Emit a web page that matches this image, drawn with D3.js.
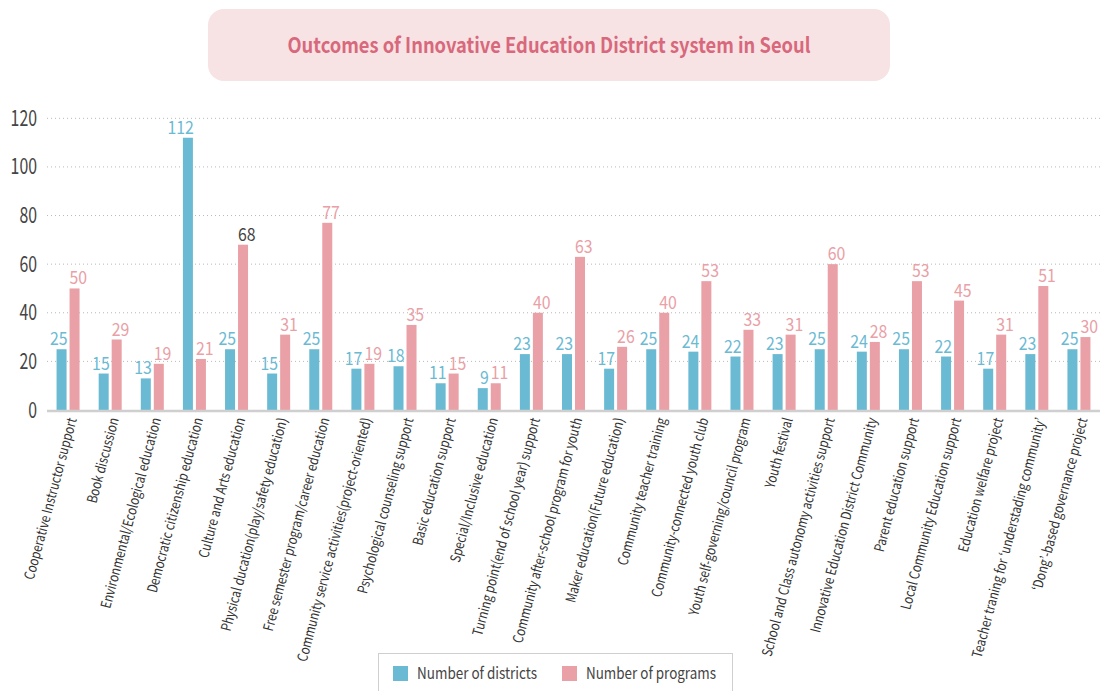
<!DOCTYPE html>
<html>
<head>
<meta charset="utf-8">
<script src="https://cdn.jsdelivr.net/npm/d3@7"></script>
<style>
  body { margin: 0; background: #fff; }
  text { font-family: "Noto Sans CJK KR", "Noto Sans", sans-serif; }
</style>
</head>
<body>
<div id="chart"></div>
<script>
// Data ------------------------------------------------------------------------
const categories = [
  "Cooperative Instructor support",
  "Book discussion",
  "Environmental/Ecological education",
  "Democratic citizenship education",
  "Culture and Arts education",
  "Physical ducation(play/safety education)",
  "Free semester program/career education",
  "Community service activities(project-oriented)",
  "Psychological counseling support",
  "Basic education support",
  "Special/Inclusive education",
  "Turning point(end of school year) support",
  "Community after-school program for youth",
  "Maker education(Future education)",
  "Community teacher training",
  "Community-connected youth club",
  "Youth self-governing/council program",
  "Youth festival",
  "School and Class autonomy activities support",
  "Innovative Education District Community",
  "Parent education support",
  "Local Community Education support",
  "Education welfare project",
  "Teacher traning for \u2018understading community\u2019",
  "\u2018Dong\u2019-based governance project"
];
const districts = [25, 15, 13, 112, 25, 15, 25, 17, 18, 11, 9, 23, 23, 17, 25, 24, 22, 23, 25, 24, 25, 22, 17, 23, 25];
const programs = [50, 29, 19, 21, 68, 31, 77, 19, 35, 15, 11, 40, 63, 26, 40, 53, 33, 31, 60, 28, 53, 45, 31, 51, 30];
const yTicks = [0, 20, 40, 60, 80, 100, 120];
const seriesNames = ["Number of districts", "Number of programs"];

// Canvas ----------------------------------------------------------------------
const canvasWidth = 1101;
const canvasHeight = 691;
const blue = "#6bbad3";
const pink = "#e9a0a6";

const svg = d3.select("#chart")
  .append("svg")
  .attr("width", canvasWidth)
  .attr("height", canvasHeight);

// squeeze text horizontally (the original uses a condensed face)
function squeeze(sel, k) {
  sel.each(function() {
    const len = this.getComputedTextLength();
    d3.select(this).attr("textLength", len * k).attr("lengthAdjust", "spacingAndGlyphs");
  });
}

// Title box
svg.append("rect")
  .attr("x", 208).attr("y", 9)
  .attr("width", 682).attr("height", 72)
  .attr("rx", 16)
  .attr("fill", "#f7e2e4");
svg.append("text")
  .attr("x", 549).attr("y", 53)
  .attr("text-anchor", "middle")
  .attr("font-size", 21)
  .attr("font-weight", 700)
  .attr("fill", "#d8687b")
  .attr("textLength", 523)
  .attr("lengthAdjust", "spacingAndGlyphs")
  .text("Outcomes of Innovative Education District system in Seoul");

// Scales ----------------------------------------------------------------------
const xScale = d3.scaleBand()
  .domain(categories)
  .range([47, 1100])
  .padding(0);
const yScale = d3.scaleLinear()
  .domain([0, 120])
  .range([410, 118.3]);

const barWidth = 10;
const barGap = 1.5;

// Grid
svg.append("g")
  .selectAll("line")
  .data(yTicks.filter(d => d > 0))
  .join("line")
  .attr("x1", 47).attr("x2", 1100)
  .attr("y1", d => yScale(d)).attr("y2", d => yScale(d))
  .attr("stroke", "#b8b8b8")
  .attr("stroke-width", 1)
  .attr("stroke-dasharray", "1,3");

// Y axis
const yAxis = svg.append("g")
  .attr("transform", "translate(37,0)")
  .call(d3.axisLeft(yScale).tickValues(yTicks).tickSize(0).tickPadding(0));
yAxis.select(".domain").remove();
yAxis.selectAll("text")
  .attr("font-family", "'Noto Sans CJK KR', sans-serif")
  .attr("font-size", 22)
  .attr("fill", "#444")
  .call(squeeze, 0.72);

// Bars ------------------------------------------------------------------------
const center = d => xScale(d) + xScale.bandwidth() / 2;

svg.append("g")
  .selectAll("rect")
  .data(categories)
  .join("rect")
  .attr("x", (d) => center(d) - barGap - barWidth)
  .attr("y", (d, i) => yScale(districts[i]))
  .attr("width", barWidth)
  .attr("height", (d, i) => yScale(0) - yScale(districts[i]))
  .attr("fill", blue);

svg.append("g")
  .selectAll("rect")
  .data(categories)
  .join("rect")
  .attr("x", (d) => center(d) + barGap)
  .attr("y", (d, i) => yScale(programs[i]))
  .attr("width", barWidth)
  .attr("height", (d, i) => yScale(0) - yScale(programs[i]))
  .attr("fill", pink);

// Baseline
svg.append("line")
  .attr("x1", 47).attr("x2", 1100)
  .attr("y1", yScale(0) + 1).attr("y2", yScale(0) + 1)
  .attr("stroke", "#cfcfcf")
  .attr("stroke-width", 2.5);

// Value labels
svg.append("g")
  .selectAll("text")
  .data(categories)
  .join("text")
  .attr("x", d => center(d) - barGap + 1)
  .attr("y", (d, i) => yScale(districts[i]) - 4)
  .attr("text-anchor", "end")
  .attr("font-size", 18)
  .attr("fill", blue)
  .text((d, i) => districts[i])
  .call(squeeze, 0.88);

svg.append("g")
  .selectAll("text")
  .data(categories)
  .join("text")
  .attr("x", d => center(d) + barGap)
  .attr("y", (d, i) => yScale(programs[i]) - 4)
  .attr("text-anchor", "start")
  .attr("font-size", 18)
  .attr("fill", (d, i) => i === 4 ? "#444" : pink)
  .text((d, i) => programs[i])
  .call(squeeze, 0.88);

// Category labels
svg.append("g")
  .selectAll("text")
  .data(categories)
  .join("text")
  .attr("transform", d => "translate(" + (center(d) + 4) + ",418) rotate(-75)")
  .attr("dy", "0.35em")
  .attr("text-anchor", "end")
  .attr("font-size", 14)
  .attr("fill", "#333")
  .text(d => d)
  .call(squeeze, 0.83);

// Legend ----------------------------------------------------------------------
svg.append("rect")
  .attr("x", 378.5).attr("y", 653.5)
  .attr("width", 354).attr("height", 60)
  .attr("fill", "#fff")
  .attr("stroke", "#cfcfcf");

const legendX = [393, 562];
const legendW = [120, 130];
const legend = svg.append("g")
  .selectAll("g")
  .data(seriesNames)
  .join("g")
  .attr("transform", (d, i) => "translate(" + legendX[i] + ",666)");
legend.append("rect")
  .attr("width", 15).attr("height", 15)
  .attr("fill", (d, i) => i === 0 ? blue : pink);
legend.append("text")
  .attr("x", 24).attr("y", 13)
  .attr("font-size", 16)
  .attr("fill", "#444")
  .attr("textLength", (d, i) => legendW[i])
  .attr("lengthAdjust", "spacingAndGlyphs")
  .text(d => d);
</script>
</body>
</html>
